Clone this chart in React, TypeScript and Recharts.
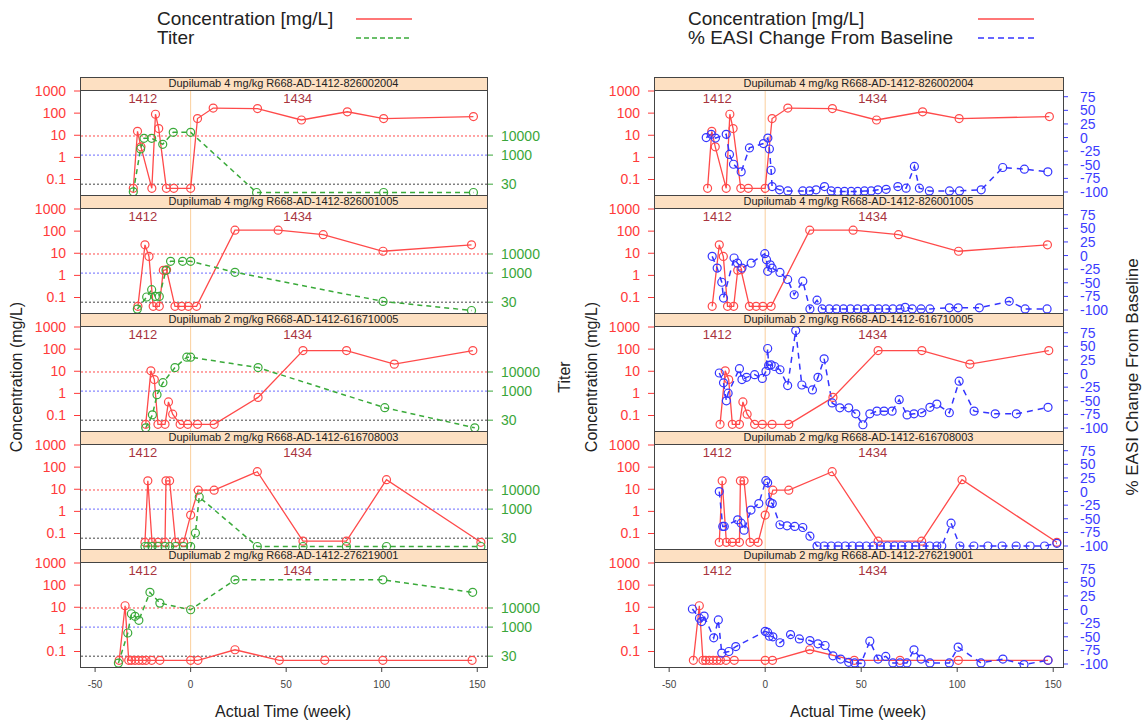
import React from 'react';
import { ComposedChart, Line, XAxis, YAxis, ReferenceLine, ReferenceDot } from 'recharts';

type Pt = [number, number];

// subjects, top to bottom
const subjects = [
  'Dupilumab 4 mg/kg R668-AD-1412-826002004',
  'Dupilumab 4 mg/kg R668-AD-1412-826001005',
  'Dupilumab 2 mg/kg R668-AD-1412-616710005',
  'Dupilumab 2 mg/kg R668-AD-1412-616708003',
  'Dupilumab 2 mg/kg R668-AD-1412-276219001',
];

// [week, concentration mg/L]
const conc1: Pt[] = [[-30, 0.04], [-27.8, 15], [-26, 3], [-20.3, 0.04], [-18.4, 89], [-16.7, 20], [-12.7, 0.04], [-8.8, 0.04], [0, 0.04], [3.6, 57], [11.8, 170], [35, 160], [58, 49], [82, 115], [101, 57], [148, 70]];
const conc2: Pt[] = [[-27.6, 0.04], [-23.9, 24], [-21.8, 7.2], [-19.6, 0.04], [-16.4, 0.04], [-14.3, 1.7], [-12.6, 1.8], [-8.2, 0.04], [-4.7, 0.04], [-1.2, 0.04], [3.1, 0.04], [23.2, 110], [45.8, 110], [69.4, 69], [100.7, 12.3], [147, 24]];
const conc3: Pt[] = [[-23.5, 0.04], [-20.8, 10.5], [-19, 4.2], [-17.1, 0.04], [-13.4, 0.04], [-11.6, 0.41], [-9.4, 0.115], [-5.5, 0.04], [-1.5, 0.04], [3.6, 0.04], [12.3, 0.04], [35.3, 0.66], [58.8, 86], [81.6, 86], [106.6, 21], [147.7, 86]];
const conc4: Pt[] = [[-23.9, 0.04], [-22.4, 24], [-20.2, 0.04], [-17.1, 0.04], [-13.4, 0.04], [-12.9, 24], [-11, 24], [-7.9, 0.04], [-3.7, 0.04], [0, 0.68], [4, 9.1], [12.3, 9.1], [34.9, 62], [58.8, 0.045], [81.5, 0.045], [102.5, 27], [151.9, 0.04]];
const conc5: Pt[] = [[-37.4, 0.04], [-34.3, 11.7], [-32.4, 0.04], [-31, 0.04], [-29.1, 0.04], [-27.1, 0.04], [-25.2, 0.04], [-23.3, 0.04], [-20.4, 0.04], [-16.1, 0.04], [0, 0.04], [3.8, 0.04], [23.2, 0.12], [46.4, 0.04], [70.2, 0.04], [100.6, 0.04], [147.3, 0.04]];

// [week, titer]
const titer1: Pt[] = [[-30, 12], [-26.2, 2100], [-24.4, 7600], [-20.4, 7600], [-14.6, 3650], [-9.1, 15500], [0, 15500], [34.5, 11], [101, 11], [148, 11]];
const titer2: Pt[] = [[-27.9, 13], [-23, 56], [-20.4, 135], [-18.5, 60], [-16.4, 60], [-12.9, 1400], [-10.5, 4150], [-4.2, 4150], [0, 4150], [23.2, 1100], [100.7, 33], [147, 11]];
const titer3: Pt[] = [[-23.5, 12], [-20, 57], [-17.6, 650], [-14.5, 2750], [-8.2, 17000], [-2, 60000], [0, 60000], [35.3, 17000], [101.6, 135], [148.7, 12]];
const titer4: Pt[] = [[-23.9, 11], [-22.4, 11], [-20.2, 11], [-17.1, 11], [-13.4, 11], [-11, 11], [-7.9, 11], [-3.7, 11], [0, 11], [2.5, 56], [4.5, 4300], [34.9, 11], [58.8, 11], [81.5, 11], [102.5, 11], [151.9, 11]];
const titer5: Pt[] = [[-37.8, 13], [-32.9, 490], [-31, 5000], [-29.1, 3650], [-27.1, 2270], [-21.3, 66000], [-16.1, 18000], [0, 8100], [23.2, 300000], [100.6, 300000], [147.6, 66000]];

// [week, % EASI change from baseline]
const easi1: Pt[] = [[-30.7, 0], [-28.1, 6], [-25.9, -1], [-20.3, 6], [-18.6, -31], [-16.5, -49], [-12.5, -63], [-8.2, -19], [-0.9, -11], [1.4, -1], [2.2, -21], [3.1, -60], [3.6, -90], [7.5, -96], [11.8, -98], [19.6, -98], [23.1, -98], [26.5, -96], [30.9, -90], [34.4, -98], [37.8, -99], [41.3, -99], [44.8, -99], [48.2, -99], [51.7, -98], [55.2, -98], [58.7, -96], [63, -95], [69.1, -90], [73.4, -93], [77.7, -53], [80.3, -93], [85.5, -98], [96, -98], [101.2, -98], [112.5, -96], [123.7, -55], [135, -58], [147.2, -63]];
const easi2: Pt[] = [[-27.6, -1.5], [-25, -23], [-22.6, -49], [-21.7, -78], [-16.2, -4.5], [-14.4, -14], [-12.1, -23], [-7.3, -14], [-0.2, 3.4], [0.7, -7.6], [1.3, -29], [2.6, -17], [3.6, -23], [7.7, -31], [11.7, -44], [15.1, -72], [19.6, -47], [23.3, -98], [27, -82], [29.7, -98], [33.4, -98], [37.1, -98], [40.8, -98], [44.4, -98], [48.1, -98], [51.8, -98], [55.5, -98], [59.1, -98], [62.8, -98], [66.5, -98], [70.2, -98], [72.9, -95], [76.6, -98], [81.2, -98], [85.8, -98], [95.9, -96], [100.5, -96], [111.5, -96], [127.1, -84], [135.4, -98], [146.8, -98]];
const easi3: Pt[] = [[-23.9, 1], [-21.7, -17], [-20.2, -50], [-19.3, -36], [-13.4, 9], [-12.1, -11], [-9.7, -7], [-5.5, -2], [-1.5, -9], [0.4, 4], [1.3, 46], [1.8, 15], [3.1, 16], [4.9, 13], [7.7, 7], [11.7, -22], [15.9, 79], [19.1, -21], [24.6, -30], [27.5, -7], [30.7, 27], [34.9, -54], [38.9, -63], [43.5, -63], [47.2, -74], [50.9, -94], [54.5, -74], [58.2, -69], [61.9, -69], [66.1, -69], [69.8, -48], [73.9, -76], [77.5, -74], [81.6, -72], [85.8, -62], [89.4, -56], [95.9, -72], [101, -14], [108.8, -69], [119.8, -74], [130.8, -74], [147.3, -62]];
const easi4: Pt[] = [[-23.9, 0], [-22.1, -64], [-21.3, -64], [-14.3, -52], [-12.5, -58], [-11, -71], [-7.4, -34], [-3.3, -22], [0.35, 20], [1.3, 16], [2.5, -20], [3.7, -22], [7.7, -61], [11.4, -63], [15.4, -64], [19.6, -66], [23.3, -82], [27, -100], [30.7, -100], [34.4, -100], [38, -100], [41.7, -100], [45.4, -100], [49, -100], [52.7, -100], [56.4, -100], [60, -100], [63.7, -100], [67.4, -100], [71, -100], [74.7, -100], [78.4, -100], [82, -100], [85.7, -100], [89.4, -100], [92, -100], [96.8, -58], [101.4, -100], [108.7, -100], [116, -100], [123.4, -100], [130.7, -100], [138, -100], [145.5, -100], [151.9, -95]];
const easi5: Pt[] = [[-37.9, 1], [-34.2, -16], [-33.1, -22], [-31.8, -12], [-26.8, -52], [-24.4, -19], [-22.6, -80], [-18.9, -77], [-15.3, -68], [0, -40], [1.3, -42], [2.2, -49], [4, -50], [7.7, -61], [13.2, -46], [17.8, -54], [23.3, -57], [27.5, -63], [31.2, -66], [35.3, -85], [39.3, -91], [43.5, -97], [46.6, -98], [49.9, -99], [54.5, -58], [58.8, -91], [62.8, -86], [66.5, -98], [70.2, -98], [73.8, -98], [77.5, -74], [81.2, -91], [85.8, -98], [95.9, -98], [100.5, -69], [112.4, -98], [123.8, -91], [134.8, -101], [147.3, -93]];

const concSeries = [conc1, conc2, conc3, conc4, conc5];
const titerSeries = [titer1, titer2, titer3, titer4, titer5];
const easiSeries = [easi1, easi2, easi3, easi4, easi5];

const weekTicks = [-50, 0, 50, 100, 150];
const concTicks = [0.1, 1, 10, 100, 1000];
const titerTicks = [30, 1000, 10000];
const easiTicks = [-100, -75, -50, -25, 0, 25, 50, 75];
const titerRefs = [10000, 1000, 30];
const periodLabels = [
  { week: -25, text: '1412' },
  { week: 56, text: '1434' },
];

const X_DOMAIN: [number, number] = [-57.9, 155.1];
const CONC_DOMAIN: [number, number] = [Math.pow(10, -1.7), 1000];
const TITER_DOMAIN: [number, number] = [Math.pow(10, 0.911), Math.pow(10, 6.356)];
const EASI_DOMAIN: [number, number] = [-105.5, 85.5];
const LABEL_Y = 450; // on the concentration axis

const RED = '#ff4a4a';
const RED_TXT = '#ff3a3a';
const GREEN = '#3aaa3a';
const GREEN_TXT = '#3aa63a';
const BLUE = '#3535ff';
const BLUE_TXT = '#3c3cff';
const ORANGE = '#fbcf9c';
const AXIS = '#444';
const refColors = ['#ff4a4a', '#6b6bff', '#444'];

const PLOT_TOPS = [91, 209, 327, 445, 563];
const PLOT_H = 104;
const STRIP_H = 14;
const FONT = '"Liberation Sans", Arial, Helvetica, sans-serif';

const rows = (pts: Pt[]) => pts.map(([w, v]) => ({ w, v }));

function Panel({ side, i }: { side: 'titer' | 'easi'; i: number }) {
  const isTiter = side === 'titer';
  const first = i === 0;
  const last = i === subjects.length - 1;
  const topPad = first ? 20 : 0;
  const botPad = last ? 30 : 0;
  // room so the edge tick labels are not clipped by the svg
  const mTop = first ? 0 : 10;
  const mBot = last ? 0 : 10;
  const plotX = isTiter ? 80 : 654;
  const plotW = isTiter ? 407 : 409;
  const rightW = isTiter ? 90 : 70;
  const plotTop = PLOT_TOPS[i];
  const second = isTiter ? titerSeries[i] : easiSeries[i];

  return (
    <>
      <div style={{ position: 'absolute', left: plotX - 80, top: plotTop - topPad - mTop }}>
        <ComposedChart
          width={80 + plotW + rightW}
          height={PLOT_H + topPad + botPad + mTop + mBot}
          margin={{ top: mTop, right: 0, bottom: mBot, left: 0 }}
        >
          {first ? (
            <XAxis dataKey="w" type="number" domain={X_DOMAIN} allowDataOverflow orientation="top"
              height={20} ticks={weekTicks} interval={0} tick={false} tickSize={19}
              axisLine={false} tickLine={{ stroke: AXIS }} />
          ) : last ? (
            <XAxis dataKey="w" type="number" domain={X_DOMAIN} allowDataOverflow orientation="bottom"
              height={30} ticks={weekTicks} interval={0} tickSize={5} tickMargin={9}
              tick={{ fill: '#444', fontSize: 10 }} axisLine={false} tickLine={{ stroke: AXIS }} />
          ) : (
            <XAxis dataKey="w" type="number" domain={X_DOMAIN} allowDataOverflow hide />
          )}
          <YAxis yAxisId="conc" scale="log" type="number" domain={CONC_DOMAIN} allowDataOverflow
            ticks={concTicks} interval={0} width={80} axisLine={false} tickSize={6} tickMargin={8}
            tick={{ fill: RED_TXT, fontSize: 14 }} tickLine={{ stroke: RED_TXT }}
            tickFormatter={(v) => String(v)} />
          {isTiter ? (
            <YAxis yAxisId="r" orientation="right" scale="log" type="number" domain={TITER_DOMAIN}
              allowDataOverflow ticks={titerTicks} interval={0} width={rightW} axisLine={false}
              tickSize={6} tickMargin={8} tick={{ fill: GREEN_TXT, fontSize: 14 }}
              tickLine={{ stroke: GREEN_TXT }} />
          ) : (
            <YAxis yAxisId="r" orientation="right" type="number" domain={EASI_DOMAIN}
              allowDataOverflow ticks={easiTicks} interval={0} width={rightW} axisLine={false}
              tickSize={5} tickMargin={12} tick={{ fill: BLUE_TXT, fontSize: 14 }}
              tickLine={{ stroke: BLUE_TXT }} />
          )}

          {isTiter &&
            titerRefs.map((t, k) => (
              <ReferenceLine key={t} yAxisId="r" y={t} stroke={refColors[k]} strokeDasharray="2 2" />
            ))}
          <ReferenceLine yAxisId="conc" x={0} stroke={ORANGE} strokeWidth={1} />
          {periodLabels.map((p) => (
            <ReferenceDot key={p.text} yAxisId="conc" x={p.week} y={LABEL_Y} r={1} fill="none" stroke="none"
              label={{ value: p.text, position: 'center', fill: '#a8343e', fontSize: 13 }} />
          ))}

          <Line yAxisId="conc" data={rows(concSeries[i])} dataKey="v" stroke={RED} strokeWidth={1.3}
            dot={{ r: 4, fill: 'none', stroke: RED, strokeWidth: 1.2 }} activeDot={false}
            isAnimationActive={false} />
          <Line yAxisId="r" data={rows(second)} dataKey="v" stroke={isTiter ? GREEN : BLUE}
            strokeWidth={1.5} strokeDasharray={isTiter ? '5 4' : '6 5'}
            dot={{ r: 4, fill: 'none', stroke: isTiter ? GREEN : BLUE, strokeWidth: 1.2, strokeDasharray: '' }}
            activeDot={false} isAnimationActive={false} />
        </ComposedChart>
      </div>
      <div style={{
        position: 'absolute', left: plotX, top: plotTop - STRIP_H, width: plotW, height: STRIP_H,
        background: '#fde0c2', borderBottom: `1px solid ${AXIS}`, boxSizing: 'border-box',
        fontSize: 11, lineHeight: `${STRIP_H - 1}px`, textAlign: 'center', color: '#222', whiteSpace: 'nowrap',
      }}>
        {subjects[i]}
      </div>
      <div style={{
        position: 'absolute', left: plotX, top: plotTop - STRIP_H, width: plotW + 1,
        height: STRIP_H + PLOT_H + 1, border: `1px solid ${AXIS}`, boxSizing: 'border-box',
        pointerEvents: 'none',
      }} />
    </>
  );
}

function LegendRow({ x, lineX, y, text, color, dash }: { x: number; lineX: number; y: number; text: string; color: string; dash?: string }) {
  return (
    <>
      <div style={{ position: 'absolute', left: x, top: y - 11, fontSize: 19, lineHeight: '22px', color: '#222', whiteSpace: 'nowrap' }}>
        {text}
      </div>
      <svg style={{ position: 'absolute', left: lineX, top: y - 2 }} width={56} height={4}>
        <line x1={0} x2={56} y1={2} y2={2} stroke={color} strokeWidth={1.5} strokeDasharray={dash} />
      </svg>
    </>
  );
}

const vTitle = (left: number, text: string, size: number) => (
  <div style={{
    position: 'absolute', left, top: 377, transform: 'translate(-50%, -50%) rotate(-90deg)',
    fontSize: size, color: '#222', whiteSpace: 'nowrap',
  }}>
    {text}
  </div>
);

export default function App() {
  return (
    <div style={{ position: 'absolute', left: 0, top: 0, width: 1143, height: 724, background: '#fff', fontFamily: FONT, overflow: 'hidden' }}>
      <LegendRow x={157} lineX={356} y={19} text="Concentration [mg/L]" color={RED} />
      <LegendRow x={157} lineX={356} y={38} text="Titer" color={GREEN} dash="5 3" />
      <LegendRow x={688} lineX={978} y={19} text="Concentration [mg/L]" color={RED} />
      <LegendRow x={688} lineX={978} y={38} text="% EASI Change From Baseline" color={BLUE} dash="6 4" />

      {subjects.map((s, i) => (
        <Panel key={'t' + s} side="titer" i={i} />
      ))}
      {subjects.map((s, i) => (
        <Panel key={'e' + s} side="easi" i={i} />
      ))}

      {vTitle(17, 'Concentration (mg/L)', 16)}
      {vTitle(565, 'Titer', 16)}
      {vTitle(592, 'Concentration (mg/L)', 16)}
      {vTitle(1133, '% EASI Change From Baseline', 17)}

      <div style={{ position: 'absolute', left: 283, top: 712, transform: 'translate(-50%, -50%)', fontSize: 16, color: '#222', whiteSpace: 'nowrap' }}>
        Actual Time (week)
      </div>
      <div style={{ position: 'absolute', left: 858, top: 712, transform: 'translate(-50%, -50%)', fontSize: 16, color: '#222', whiteSpace: 'nowrap' }}>
        Actual Time (week)
      </div>
    </div>
  );
}
